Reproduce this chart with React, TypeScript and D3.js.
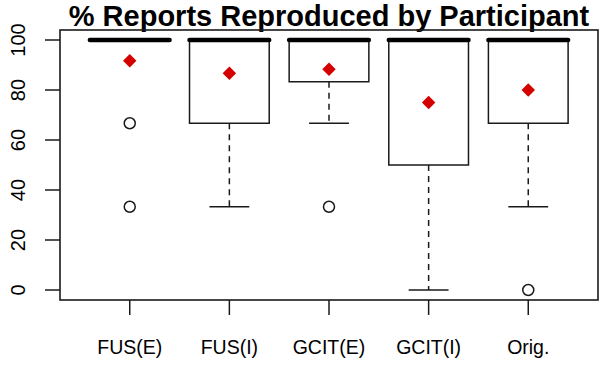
import * as d3 from "d3";

const categories = ["FUS(E)", "FUS(I)", "GCIT(E)", "GCIT(I)", "Orig."];
const lowerQ = [100, 66.7, 83.3, 50, 66.7];
const medians = [100, 100, 100, 100, 100];
const upperQ = [100, 100, 100, 100, 100];
const whiskLow = [100, 33.3, 66.7, 0, 33.3];
const whiskHigh = [100, 100, 100, 100, 100];
const outliers = [[66.7, 33.3], [], [33.3], [], [0]];
const means = [91.7, 86.7, 88.3, 75, 80];
const yTicks = [0, 20, 40, 60, 80, 100];

const W = 600;
const H = 375;
const left = 60, right = 598, top = 30, bottom = 300;
const ink = "#1a1a1a";
const font = "'Liberation Sans', Arial, Helvetica, sans-serif";

export default function App() {
  const x = d3.scaleLinear().domain([0.3, 5.7]).range([left, right]);
  const y = d3.scaleLinear().domain([-4, 104]).range([bottom, top]);
  const boxHalf = x(1.4) - x(1);
  const capHalf = boxHalf / 2;
  const diamond = d3.symbol().type(d3.symbolDiamond2).size(115)();

  return (
    <svg width={W} height={H} style={{ position: "absolute", left: 0, top: 0, background: "#fff" }}>
      <text x={(left + right) / 2} y={26} textAnchor="middle" fontFamily={font} fontWeight="bold" fontSize={29}>
        % Reports Reproduced by Participant
      </text>

      {categories.map((c, i) => {
        const cx = x(i + 1);
        return (
          <g key={c}>
            {/* whiskers, dashed, with caps */}
            {whiskLow[i] < lowerQ[i] && (
              <>
                <line x1={cx} x2={cx} y1={y(lowerQ[i])} y2={y(whiskLow[i])} stroke={ink} strokeWidth={1.5} strokeDasharray="6,5" />
                <line x1={cx - capHalf} x2={cx + capHalf} y1={y(whiskLow[i])} y2={y(whiskLow[i])} stroke={ink} strokeWidth={1.5} />
              </>
            )}
            {whiskHigh[i] > upperQ[i] && (
              <>
                <line x1={cx} x2={cx} y1={y(upperQ[i])} y2={y(whiskHigh[i])} stroke={ink} strokeWidth={1.5} strokeDasharray="6,5" />
                <line x1={cx - capHalf} x2={cx + capHalf} y1={y(whiskHigh[i])} y2={y(whiskHigh[i])} stroke={ink} strokeWidth={1.5} />
              </>
            )}
            <rect x={cx - boxHalf} y={y(upperQ[i])} width={boxHalf * 2} height={y(lowerQ[i]) - y(upperQ[i])}
              fill="none" stroke={ink} strokeWidth={1.5} />
            <line x1={cx - boxHalf} x2={cx + boxHalf} y1={y(medians[i])} y2={y(medians[i])}
              stroke="#000" strokeWidth={4.5} strokeLinecap="round" />
            {outliers[i].map((o, j) => (
              <circle key={j} cx={cx} cy={y(o)} r={5.5} fill="none" stroke={ink} strokeWidth={1.5} />
            ))}
            <path d={diamond} transform={`translate(${cx},${y(means[i])})`} fill="#d40000" />
          </g>
        );
      })}

      {/* frame */}
      <rect x={left} y={top} width={right - left} height={bottom - top} fill="none" stroke={ink} strokeWidth={1.6} />

      {/* y axis */}
      {yTicks.map((t) => (
        <g key={t}>
          <line x1={left} x2={left - 15} y1={y(t)} y2={y(t)} stroke={ink} strokeWidth={1.5} />
          <text transform={`translate(25,${y(t)}) rotate(-90)`} textAnchor="middle" fontFamily={font} fontSize={20}>
            {t}
          </text>
        </g>
      ))}

      {/* x axis */}
      {categories.map((c, i) => (
        <g key={c}>
          <line x1={x(i + 1)} x2={x(i + 1)} y1={bottom} y2={bottom + 15} stroke={ink} strokeWidth={1.5} />
          <text x={x(i + 1)} y={354} textAnchor="middle" fontFamily={font} fontSize={19.5}>
            {c}
          </text>
        </g>
      ))}
    </svg>
  );
}
